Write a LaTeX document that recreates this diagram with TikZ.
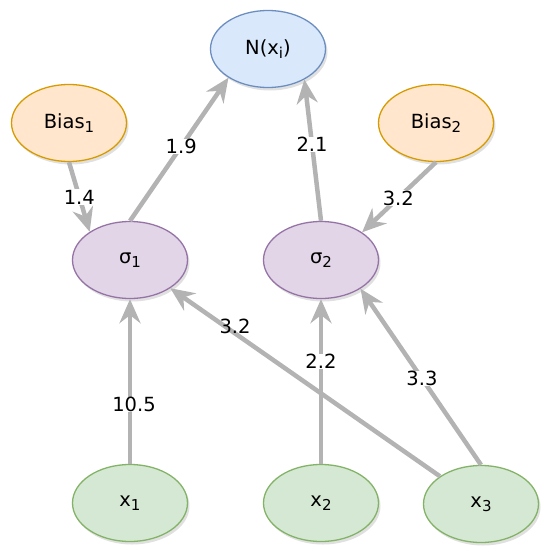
\documentclass[tikz,border=0pt]{standalone}
\usepackage{fontspec}
\setmainfont{DejaVu Sans}
\usepackage{tikz}
\usetikzlibrary{calc,shapes.geometric,arrows.meta,shadows}
\definecolor{edgegray}{RGB}{179,179,179}
\newcommand\idx[1]{\raisebox{-4pt}{\fontsize{15}{17}\selectfont #1}}
\tikzset{x=1pt, y=-1pt,
  unit node/.style={ellipse, draw, line width=1.3pt, minimum width=115pt,
       minimum height=77pt, inner sep=0pt,
       font=\fontsize{19.5}{22}\selectfont,
       drop shadow={shadow xshift=2pt, shadow yshift=-3pt, opacity=0.12, fill=black}},
  output node/.style={unit node, fill={rgb,255:red,218;green,232;blue,252}, draw={rgb,255:red,108;green,142;blue,191}},
  bias node/.style={unit node, fill={rgb,255:red,255;green,230;blue,204}, draw={rgb,255:red,215;green,155;blue,0}},
  hidden node/.style={unit node, fill={rgb,255:red,225;green,213;blue,231}, draw={rgb,255:red,150;green,115;blue,166}},
  input node/.style={unit node, fill={rgb,255:red,213;green,232;blue,212}, draw={rgb,255:red,130;green,179;blue,102}},
  weight edge/.style={draw=edgegray, line width=4.5pt,
       -{Stealth[length=24pt, width=21pt, inset=8pt]}},
  weight label/.style={font=\fontsize{19.5}{22}\selectfont, fill=white, inner sep=0.5pt}
}
\begin{document}
\begin{tikzpicture}
\useasboundingbox (0,0) rectangle (550,557);
% nodes
\node[output node] (N) at (268,49) {N(x\idx{i})};
\node[bias node] (Bias1) at (69,123) {Bias\idx{1}};
\node[bias node] (Bias2) at (436,123) {Bias\idx{2}};
\node[hidden node] (s1) at (130,260) {σ\idx{1}};
\node[hidden node] (s2) at (321,260) {σ\idx{2}};
\node[input node] (x1) at (130,503) {x\idx{1}};
\node[input node] (x2) at (321,503) {x\idx{2}};
\node[input node] (x3) at (481,504) {x\idx{3}};
% weights
\draw[weight edge] (Bias1.south) -- node[weight label, pos=0.5] (w1) {1.4} (s1.145);
\draw[weight edge] (s1.north) -- node[weight label, pos=0.52] (w2) {1.9} (N.-144);
\draw[weight edge] (s2.north) -- node[weight label, pos=0.54] (w3) {2.1} (N.-40);
\draw[weight edge] (Bias2.south) -- node[weight label, pos=0.51] (w4) {3.2} (s2.34);
\draw[weight edge] (x1.north) -- node[weight label, pos=0.36, xshift=4pt] (w5) {10.5} (s1.south);
\draw[weight edge] (x2.north) -- node[weight label, pos=0.62] (w6) {2.2} (s2.south);
\draw[weight edge] (x3.146) -- node[weight label, pos=0.76, yshift=7pt, fill=none] (w7) {3.2} (s1.-35);
\draw[weight edge] (x3.north) -- node[weight label, pos=0.49] (w8) {3.3} (s2.-36);
\end{tikzpicture}
\end{document}
